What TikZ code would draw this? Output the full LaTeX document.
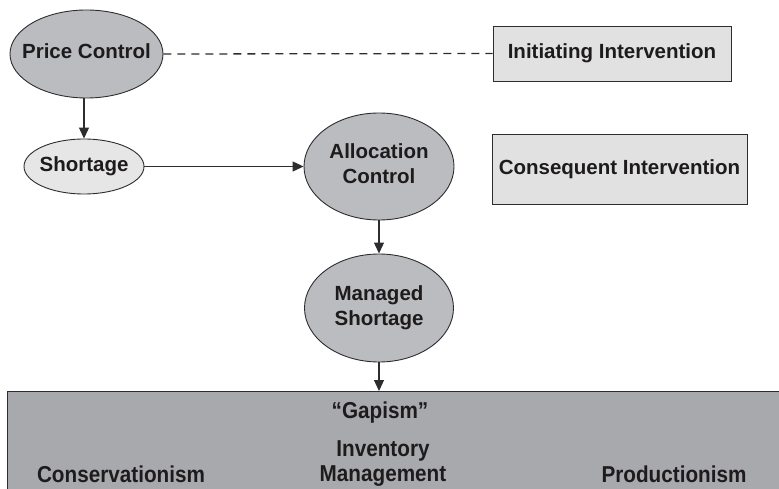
\documentclass[tikz,border=0pt]{standalone}
\usepackage{fontspec}
\setmainfont{Liberation Sans}
\newfontfamily\narrowfont[FakeStretch=0.9]{Liberation Sans}
\usetikzlibrary{shapes.geometric,arrows.meta}
\definecolor{ink}{RGB}{30,27,28}
\definecolor{edge}{RGB}{45,45,47}
\definecolor{darkfill}{RGB}{187,188,191}
\definecolor{lightfill}{RGB}{230,230,231}
\definecolor{boxfill}{RGB}{225,225,226}
\definecolor{gapfill}{RGB}{168,169,172}
\newcommand\mylines[1]{\makebox[0pt]{\begin{tabular}{@{}c@{}}#1\end{tabular}}}
\tikzset{
  x=1pt, y=-1pt,
  every node/.style={text=ink, font=\bfseries\fontsize{20.5}{25}\selectfont},
  oval/.style={ellipse, draw=edge, line width=0.9pt, inner sep=0pt},
  darkoval/.style={oval, fill=darkfill},
  lightoval/.style={oval, fill=lightfill},
  legendbox/.style={rectangle, draw=edge, line width=0.9pt, fill=boxfill, inner sep=0pt},
  conn/.style={line width=1.2pt, draw=edge, -{Triangle[length=11pt,width=10pt]}},
  narrowtext/.style={font=\narrowfont\bfseries\fontsize{23}{25}\selectfont}
}
\begin{document}
\begin{tikzpicture}
\useasboundingbox (0,0) rectangle (779,489);
\clip (0,0) rectangle (779,489);
% bottom band
\node[rectangle, draw=edge, line width=0.9pt, fill=gapfill, minimum width=790pt, minimum height=110pt, anchor=north west, inner sep=0pt] (gap) at (7,391) {};
\node[narrowtext] (gapt) at (380,413) {“Gapism”};
\node[narrowtext, anchor=base] (cons) at (121,482) {Conservationism};
\node[narrowtext] (inv) at (383,464) {\mylines{Inventory\\Management}};
\node[narrowtext, anchor=base] (prod) at (674,482) {Productionism};
% ellipses
\node[darkoval, minimum width=153pt, minimum height=88pt] (pc) at (86.5,54) {\mylines{Price Control}};
\node[lightoval, minimum width=120pt, minimum height=55pt] (sh) at (84,166.5) {\mylines{Shortage}};
\node[darkoval, minimum width=150pt, minimum height=107pt] (ac) at (379,166.5) {\mylines{Allocation\\Control}};
\node[darkoval, minimum width=149pt, minimum height=108pt] (ms) at (379,308) {\mylines{Managed\\Shortage}};
% legend boxes
\node[legendbox, minimum width=238pt, minimum height=55pt] (ii) at (612,53.5) {Initiating Intervention};
\node[legendbox, minimum width=255pt, minimum height=70pt] (ci) at (619.5,169) {Consequent Intervention};
% connectors
\draw[line width=1.3pt, draw=edge, dash pattern=on 8pt off 6pt] (pc.east) -- (ii.west);
\draw[conn] (sh.north |- pc.south) -- (sh.north);
\draw[conn] (sh.east) -- (ac.west);
\draw[conn] (ac.south) -- (ms.north);
\draw[conn] (ms.south) -- (ms.south |- gap.north);
\end{tikzpicture}
\end{document}
